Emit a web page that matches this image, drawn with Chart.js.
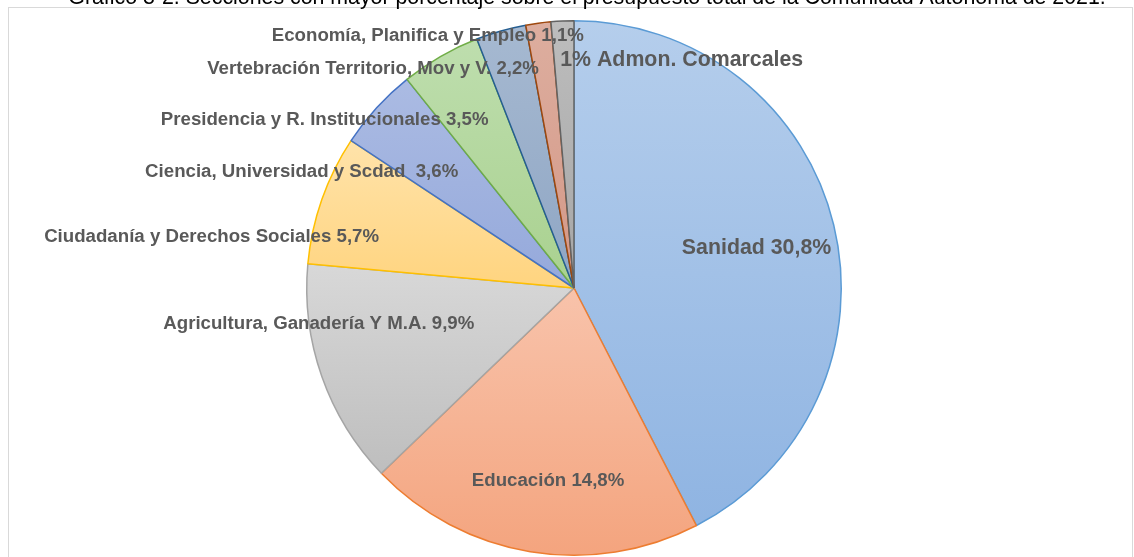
<!DOCTYPE html>
<html><head><meta charset="utf-8">
<script src="https://cdn.jsdelivr.net/npm/chart.js@4"></script>
<style>html,body{margin:0;padding:0;background:#fff;overflow:hidden}#wrap{width:1134px;height:557px;position:relative}</style>
</head><body><div id="wrap"><canvas id="c" width="1134" height="557"></canvas></div>
<script>
const categories = ['Sanidad','Educación','Agricultura, Ganadería Y M.A.','Ciudadanía y Derechos Sociales','Ciencia, Universidad y Scdad ','Presidencia y R. Institucionales','Vertebración Territorio, Mov y V.','Economía, Planifica y Empleo','Admon. Comarcales'];
const values = [30.8, 14.8, 9.9, 5.7, 3.6, 3.5, 2.2, 1.1, 1.0];
const valueLabels = ['30,8%','14,8%','9,9%','5,7%','3,6%','3,5%','2,2%','1,1%','1%'];
const valueFirst = [false,false,false,false,false,false,false,false,true];
const titleText = 'Gráfico 3-2. Secciones con mayor porcentaje sobre el presupuesto total de la Comunidad Autónoma de 2021.';

// styles
const gradTop = ['#B5CEEC','#F8C3AB','#D8D8D8','#FFE3AA','#ABBBE3','#BEDEAE','#A6B9D1','#DDAE9F','#BDBDBD'];
const gradBottom = ['#8FB4E2','#F4A47E','#BEBEBE','#FFD47F','#95A9DB','#A9D18F','#8FA6C4','#D49887','#A6A6A6'];
const borders = ['#5B9BD5','#ED7D31','#A5A5A5','#FFC000','#4472C4','#70AD47','#255E91','#9E480E','#636363'];
// label anchor (center of text), in units of radius from the pie centre
const labelPos = [[0.683,-0.149],[-0.097,0.720],[-0.955,0.134],[-1.356,-0.190],[-1.019,-0.433],[-0.933,-0.631],[-0.752,-0.821],[-0.547,-0.944],[0.403,-0.851]];
const labelSize = [21.33,18.67,18.67,18.67,18.67,18.67,18.67,18.67,21.33];

const FONT = '"Liberation Sans", Arial, sans-serif';

function sliceYRange(i, cy, r){
  const total = values.reduce((a,b)=>a+b,0);
  let s = 0; for (let k=0;k<i;k++) s += values[k];
  const a0 = -Math.PI/2 + s/total*2*Math.PI;
  const a1 = a0 + values[i]/total*2*Math.PI;
  const ys = [cy, cy + r*Math.sin(a0), cy + r*Math.sin(a1)];
  for (const m of [-Math.PI/2, Math.PI/2, 3*Math.PI/2]) if (m > a0 && m < a1) ys.push(cy + r*Math.sin(m));
  return [Math.min(...ys), Math.max(...ys)];
}

const decor = {
  id: 'decor',
  beforeDraw(chart){
    const c = chart.ctx;
    c.save();
    c.fillStyle = '#fff'; c.fillRect(0,0,chart.width,chart.height);
    c.strokeStyle = '#D9D9D9'; c.lineWidth = 1;
    c.strokeRect(8.5, 7.5, 1124, 600);
    c.fillStyle = '#000';
    c.font = '21.33px ' + FONT;
    c.textAlign = 'center'; c.textBaseline = 'alphabetic';
    c.fillText(titleText, 587, 3.5);
    c.restore();
  },
  afterDatasetsDraw(chart){
    const arc = chart.getDatasetMeta(0).data[0];
    const cx = arc.x, cy = arc.y, r = arc.outerRadius;
    const c = chart.ctx;
    c.save();
    c.fillStyle = '#595959';
    c.textAlign = 'center'; c.textBaseline = 'middle';
    categories.forEach((cat, i) => {
      c.font = 'bold ' + labelSize[i] + 'px ' + FONT;
      const t = valueFirst[i] ? valueLabels[i] + ' ' + cat : cat + ' ' + valueLabels[i];
      c.fillText(t, cx + labelPos[i][0]*r, cy + labelPos[i][1]*r);
    });
    c.restore();
  }
};

new Chart(document.getElementById('c'), {
  type: 'pie',
  data: {
    labels: categories,
    datasets: [{
      data: values,
      backgroundColor: (ctx) => {
        const chart = ctx.chart, area = chart.chartArea;
        if (!area || ctx.dataIndex === undefined) return gradTop[ctx.dataIndex || 0];
        const r = Math.min(area.right-area.left, area.bottom-area.top)/2;
        const cy = (area.top+area.bottom)/2;
        const [y0,y1] = sliceYRange(ctx.dataIndex, cy, r);
        const g = chart.ctx.createLinearGradient(0, y0, 0, Math.max(y1, y0+1));
        g.addColorStop(0, gradTop[ctx.dataIndex]);
        g.addColorStop(1, gradBottom[ctx.dataIndex]);
        return g;
      },
      borderColor: borders,
      borderWidth: 1.5,
      hoverOffset: 0,
      borderAlign: 'center'
    }]
  },
  options: {
    responsive: false,
    devicePixelRatio: 1,
    animation: false,
    layout: { padding: { top: 20, bottom: 1, left: 14, right: 0 } },
    plugins: { legend: { display: false }, tooltip: { enabled: false }, title: { display: false } },
    events: []
  },
  plugins: [decor]
});
</script>
</body></html>
